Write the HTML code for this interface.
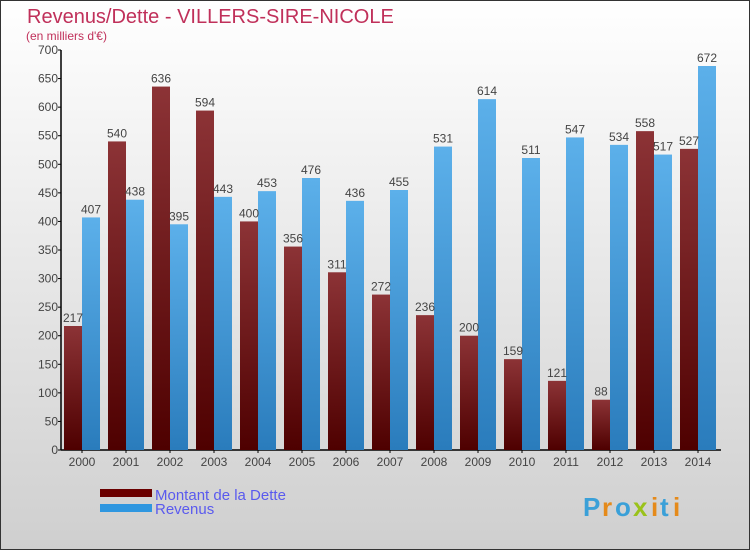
<!DOCTYPE html>
<html><head><meta charset="utf-8"><style>
body{margin:0;width:750px;height:550px;overflow:hidden;font-family:"Liberation Sans",sans-serif}
</style></head><body>
<svg id="c" width="750" height="550" xmlns="http://www.w3.org/2000/svg">
<defs>
<linearGradient id="bg" x1="0" y1="0" x2="0" y2="1"><stop offset="0" stop-color="#ffffff"/><stop offset="1" stop-color="#cfcfcf"/></linearGradient>
<linearGradient id="gd" x1="0" y1="0" x2="0" y2="1"><stop offset="0" stop-color="#8c3336"/><stop offset="1" stop-color="#4e0000"/></linearGradient>
<linearGradient id="gr" x1="0" y1="0" x2="0" y2="1"><stop offset="0" stop-color="#5cb0ea"/><stop offset="1" stop-color="#2a7cbc"/></linearGradient>
</defs>
<rect x="0.5" y="0.5" width="749" height="549" fill="url(#bg)" stroke="#333"/>
<text x="27" y="23" font-size="20" fill="#c0305a">Revenus/Dette - VILLERS-SIRE-NICOLE</text>
<text x="26" y="40" font-size="12" fill="#c0305a">(en milliers d'€)</text>
<g id="axes"></g>
<g id="bars"></g>
<g>
<rect x="100" y="489" width="52" height="8" fill="#6a0000"/>
<text x="155" y="500" font-size="15" fill="#5a5aee">Montant de la Dette</text>
<rect x="100" y="504" width="52" height="8" fill="#2f97e0"/>
<text x="155" y="514" font-size="15" fill="#5a5aee">Revenus</text>
</g>
<g font-size="26" font-weight="bold">
<text x="583" y="516" fill="#3aa0d8">P</text><text x="602" y="516" fill="#e58a1a">r</text><text x="615" y="516" fill="#3aa0d8">o</text><text x="633" y="516" fill="#9ac21a">x</text><text x="651" y="516" fill="#e58a1a">i</text><text x="660" y="516" fill="#3aa0d8">t</text><text x="673" y="516" fill="#e58a1a">i</text>
</g>
</svg>
<script>
const years=["2000","2001","2002","2003","2004","2005","2006","2007","2008","2009","2010","2011","2012","2013","2014"];
const dette=[217,540,636,594,400,356,311,272,236,200,159,121,88,558,527];
const revenus=[407,438,395,443,453,476,436,455,531,614,511,547,534,517,672];
const yTicks=[0,50,100,150,200,250,300,350,400,450,500,550,600,650,700];
const NS="http://www.w3.org/2000/svg";
const y0=450,yTop=50,yMax=700,x0=61,step=44;
const y=v=>y0-(v/yMax)*(y0-yTop);
function mk(t,a,p){const e=document.createElementNS(NS,t);for(const k in a)e.setAttribute(k,a[k]);p.appendChild(e);return e;}
const ax=document.getElementById('axes'),bg=document.getElementById('bars');
const yl=mk('line',{x1:x0,y1:yTop,x2:x0,y2:y0,stroke:'#000','stroke-width':1.5},ax);


const xl=mk('line',{x1:x0,y1:y0,x2:x0+step*years.length,y2:y0,stroke:'#000','stroke-width':1.5},ax);


yTicks.forEach(t=>{
  mk('line',{x1:x0-3,y1:y(t),x2:x0,y2:y(t),stroke:'#000'},ax);
  const tx=mk('text',{x:x0-3,y:y(t)+4,'font-size':12,fill:'#444','text-anchor':'end'},ax);
  tx.textContent=t;
  
  
});
years.forEach((yr,i)=>{
  const gx=x0+3+i*step;
  const tx=mk('text',{x:gx+18,y:466,'font-size':12,fill:'#444','text-anchor':'middle'},ax);
  tx.textContent=yr;
  
  
  mk('line',{x1:gx+18,y1:y0,x2:gx+18,y2:y0+3,stroke:'#000'},ax);
  const b1=mk('rect',{x:gx,y:y(dette[i]),width:18,height:y0-y(dette[i]),fill:'url(#gd)'},bg);
  
  
  const b2=mk('rect',{x:gx+18,y:y(revenus[i]),width:18,height:y0-y(revenus[i]),fill:'url(#gr)'},bg);
  
  
  const l1=mk('text',{x:gx+9,y:y(dette[i])-4,'font-size':12,fill:'#444','text-anchor':'middle'},bg);
  l1.textContent=dette[i];
  
  
  const l2=mk('text',{x:gx+27,y:y(revenus[i])-4,'font-size':12,fill:'#444','text-anchor':'middle'},bg);
  l2.textContent=revenus[i];
  
  
});
</script>
</body></html>
